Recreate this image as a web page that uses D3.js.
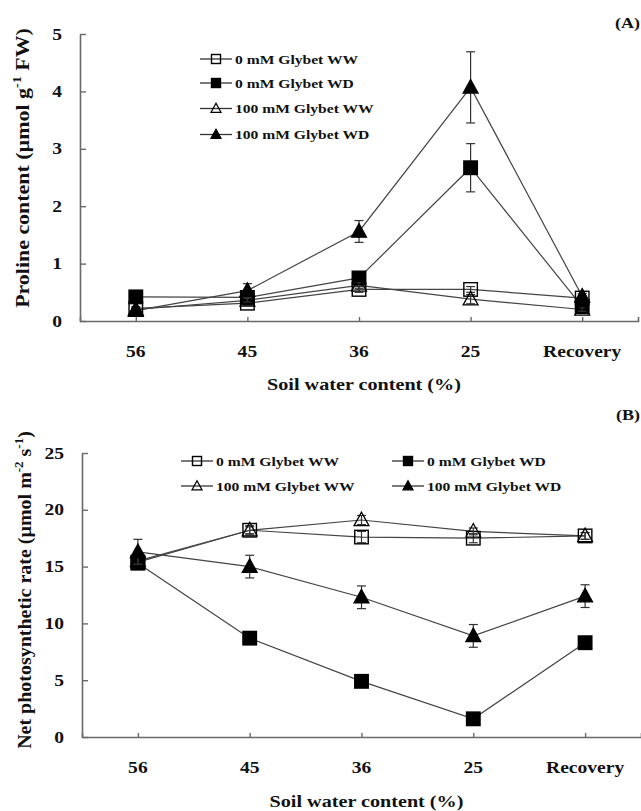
<!DOCTYPE html>
<html><head><meta charset="utf-8">
<script src="https://cdn.jsdelivr.net/npm/d3@7"></script>
<style>
body{margin:0;background:#fff}
svg{display:block}
text{font-family:"Liberation Serif","Times New Roman",serif;font-weight:bold;fill:#111}
</style>
</head><body>
<svg id="c" width="641" height="811"></svg>
<script>
// ---------- data ----------
const categories = ["56", "45", "36", "25", "Recovery"];
const seriesNames = ["0 mM Glybet WW", "0 mM Glybet WD", "100 mM Glybet WW", "100 mM Glybet WD"];
const seriesMarkers = ["squareOpen", "squareFilled", "triOpen", "triFilled"];

// Panel A: proline content (µmol g-1 FW)
const prolineWW0   = [0.22, 0.31, 0.55, 0.55, 0.40];
const prolineWD0   = [0.42, 0.41, 0.75, 2.67, 0.25];
const prolineWW100 = [0.20, 0.36, 0.62, 0.38, 0.20];
const prolineWD100 = [0.18, 0.53, 1.56, 4.07, 0.43];
const prolineErrWW0   = [0.03, 0.03, 0.05, 0.05, 0.03];
const prolineErrWD0   = [0.05, 0.05, 0.08, 0.42, 0.05];
const prolineErrWW100 = [0.03, 0.03, 0.05, 0.08, 0.03];
const prolineErrWD100 = [0.03, 0.12, 0.19, 0.62, 0.05];
const prolineTicks = [0, 1, 2, 3, 4, 5];

// Panel B: net photosynthetic rate (µmol m-2 s-1)
const photoWW0   = [15.4, 18.2, 17.6, 17.5, 17.7];
const photoWD0   = [15.3, 8.7, 4.9, 1.6, 8.3];
const photoWW100 = [15.5, 18.2, 19.1, 18.1, 17.7];
const photoWD100 = [16.3, 15.0, 12.3, 8.9, 12.4];
const photoErrWW0   = [0.3, 0.4, 0.5, 0.4, 0.3];
const photoErrWD0   = [0.3, 0.3, 0.3, 0.3, 0.3];
const photoErrWW100 = [0.3, 0.3, 0.4, 0.3, 0.3];
const photoErrWD100 = [1.1, 1.0, 1.0, 1.0, 1.0];
const photoTicks = [0, 5, 10, 15, 20, 25];

// ---------- drawing ----------
const svg = d3.select("#c");
svg.append("rect").attr("width", 641).attr("height", 811).attr("fill", "#fff");
const SX = 1.2; // horizontal stretch of glyphs seen in the reference
const AXC = "#6a6a6a", LNC = "#444";

function txt(g, x, y, s, size, anchor) {
  return g.append("text")
    .attr("transform", `translate(${x},${y}) scale(${SX},1)`)
    .attr("text-anchor", anchor || "start")
    .attr("font-size", size).text(s);
}

function marker(g, type, x, y, s) {
  if (type.startsWith("square")) {
    g.append("rect").attr("x", x - s / 2).attr("y", y - s / 2).attr("width", s).attr("height", s)
      .attr("fill", type === "squareFilled" ? "#000" : "none")
      .attr("stroke", "#000").attr("stroke-width", 1.4);
  } else {
    const h = s * 1.0, w = s * 0.55;
    g.append("path").attr("d", `M${x},${y - h * 0.58}L${x + w},${y + h * 0.42}L${x - w},${y + h * 0.42}Z`)
      .attr("fill", type === "triFilled" ? "#000" : "none")
      .attr("stroke", "#000").attr("stroke-width", 1.3);
  }
}

function panel(cfg) {
  const g = svg.append("g");
  const x = d3.scalePoint().domain(categories).range([cfg.x0, cfg.x1]).padding(0.5);
  const y = d3.scaleLinear().domain([0, cfg.yMax]).range([cfg.yBottom, cfg.yTop]);

  // axes
  const xa = g.append("g").attr("transform", `translate(0,${cfg.yBottom})`)
    .call(d3.axisBottom(x).tickSizeInner(-4).tickSizeOuter(-4).tickPadding(0).tickFormat(""));
  const ya = g.append("g").attr("transform", `translate(${cfg.x0},0)`)
    .call(d3.axisLeft(y).tickValues(cfg.ticks).tickSizeInner(-6).tickSizeOuter(0).tickFormat(""));
  [xa, ya].forEach(a => {
    a.select(".domain").attr("stroke", AXC).attr("stroke-width", 1.6);
    a.selectAll(".tick line").attr("stroke", AXC).attr("stroke-width", 1.4);
  });
  categories.forEach(c => txt(g, x(c), cfg.yBottom + 36, c, 16.3, "middle"));
  cfg.ticks.forEach(t => txt(g, cfg.x0 - 18, y(t) + 5.5, String(t), 16.3, "end"));

  // x title
  txt(g, (cfg.x0 + cfg.x1) / 2 + 5, cfg.xTitleY, "Soil water content (%)", 16.8, "middle");
  // y title (stretched along its length to the reference span)
  const yt = g.append("text")
    .attr("text-anchor", "middle").attr("font-size", cfg.yTitleSize);
  cfg.yTitle.forEach(p => {
    const ts = yt.append("tspan").text(p.t);
    if (p.sup) ts.attr("font-size", cfg.yTitleSize * 0.65).attr("dy", -7);
    if (p.after) ts.attr("dy", 7);
  });
  const len = yt.node().getComputedTextLength() || cfg.yTitleLen;
  yt.attr("transform", `translate(${cfg.yTitleX},${cfg.yTitleY}) rotate(-90) scale(${cfg.yTitleLen / len},1.1)`);
  // panel letter
  txt(g, 640, cfg.letterY, cfg.letter, 15, "end");

  // series
  cfg.series.forEach((s, i) => {
    const pts = s.v.map((v, k) => [x(categories[k]), y(v)]);
    g.append("path").attr("d", d3.line()(pts)).attr("fill", "none")
      .attr("stroke", LNC).attr("stroke-width", 1.2);
  });
  cfg.series.forEach((s, i) => {
    s.v.forEach((v, k) => {
      const cx = x(categories[k]);
      const e = s.e[k];
      if (e > 0) {
        const yt1 = y(v + e), yb = y(v - e);
        g.append("line").attr("x1", cx).attr("x2", cx).attr("y1", yt1).attr("y2", yb)
          .attr("stroke", "#333").attr("stroke-width", 1.2);
        [yt1, yb].forEach(yy => g.append("line").attr("x1", cx - 4.5).attr("x2", cx + 4.5)
          .attr("y1", yy).attr("y2", yy).attr("stroke", "#333").attr("stroke-width", 1.2));
      }
      marker(g, seriesMarkers[i], cx, y(v), cfg.markerSize);
    });
  });

  // legend
  cfg.legend.forEach((L, i) => {
    g.append("line").attr("x1", L.x).attr("x2", L.x + 32).attr("y1", L.y).attr("y2", L.y)
      .attr("stroke", "#333").attr("stroke-width", 1.3);
    marker(g, seriesMarkers[i], L.x + 16, L.y, 9);
    txt(g, L.x + 35, L.y + 4.5, seriesNames[i], 13, "start");
  });
}

panel({
  x0: 80, x1: 638, yBottom: 321, yTop: 34, yMax: 5, ticks: prolineTicks,
  xTitleY: 390, yTitleX: 29, yTitleY: 168, yTitleSize: 18, yTitleLen: 280,
  yTitle: [{t: "Proline content (µmol g"}, {t: "-1", sup: true}, {t: " FW)", after: true}],
  letter: "(A)", letterY: 28, markerSize: 13.5,
  series: [
    {v: prolineWW0, e: prolineErrWW0},
    {v: prolineWD0, e: prolineErrWD0},
    {v: prolineWW100, e: prolineErrWW100},
    {v: prolineWD100, e: prolineErrWD100}
  ],
  legend: [{x: 200, y: 59}, {x: 200, y: 83}, {x: 200, y: 108.5}, {x: 200, y: 134.5}]
});

panel({
  x0: 82, x1: 641, yBottom: 737, yTop: 453, yMax: 25, ticks: photoTicks,
  xTitleY: 807, yTitleX: 31, yTitleY: 590, yTitleSize: 18, yTitleLen: 318,
  yTitle: [{t: "Net photosynthetic rate (µmol m"}, {t: "-2", sup: true}, {t: " s", after: true}, {t: "-1", sup: true}, {t: ")", after: true}],
  letter: "(B)", letterY: 420, markerSize: 13.5,
  series: [
    {v: photoWW0, e: photoErrWW0},
    {v: photoWD0, e: photoErrWD0},
    {v: photoWW100, e: photoErrWW100},
    {v: photoWD100, e: photoErrWD100}
  ],
  legend: [{x: 181, y: 461}, {x: 392, y: 461}, {x: 181, y: 486}, {x: 392, y: 486}]
});
</script>
</body></html>
